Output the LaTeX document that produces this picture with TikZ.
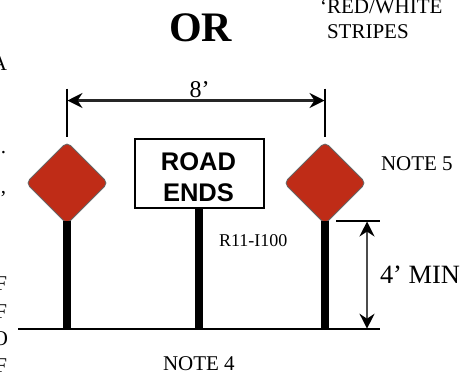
\documentclass[tikz,border=0pt]{standalone}
\usepackage{fontspec}
\setmainfont{Liberation Serif}
\newfontfamily\arialfont{Liberation Sans}
\usetikzlibrary{shapes.geometric,arrows.meta}
\definecolor{signred}{HTML}{BF2C17}
\newcommand{\fs}[1]{\fontsize{#1bp}{#1bp}\selectfont}
\tikzset{
  lbl/.style={inner sep=0pt,outer sep=0pt,anchor=base west,text=black},
  frag/.style={inner sep=0pt,outer sep=0pt,anchor=base east,text=black,font=\fs{21}},
  signword/.style={inner sep=0pt,outer sep=0pt,anchor=base,text=black,font=\arialfont\bfseries\fs{25.5}},
  signdiamond/.style={shape=diamond,aspect=1,draw=black!60,line width=0.8bp,fill=signred,
     rounded corners=5bp,minimum width=82bp,minimum height=82bp,inner sep=0pt,outer sep=0pt},
  signbox/.style={draw=black,line width=2bp,fill=white,minimum width=129bp,minimum height=69bp,
     inner sep=0pt,outer sep=0pt},
  pole/.style={line width=7.5bp,black},
  ground/.style={line width=2bp,black},
  tick/.style={line width=2bp,black},
  headed/.style={{Stealth[length=15bp,width=15bp,inset=5bp,black]}-{Stealth[length=15bp,width=15bp,inset=5bp,black]}},
  dimline/.style={headed,line width=2.2bp,black!85},
  dimlinethin/.style={headed,line width=1.6bp,black!70}
}
\begin{document}
\begin{tikzpicture}[x=1bp,y=-1bp]
\useasboundingbox (0,0) rectangle (471,375);
\clip (0,0) rectangle (471,375);
% ground
\coordinate (gl) at (18,328.7);
\coordinate (gr) at (379.5,328.7);
\coordinate (gp1) at (67,328.7);
\coordinate (gp2) at (199,328.7);
\coordinate (gp3) at (325,328.7);
\coordinate (gh) at (367,328.7);
% signs
\node[signdiamond] (d1) at (67,183) {};
\node[signdiamond] (d2) at (325,183) {};
\node[signbox] (box) at (199,173) {};
\node[signword] (road) at (198.5,170) {ROAD};
\node[signword] (ends) at (198.5,201) {ENDS};
% poles (they start where the rounded tip of the diamond ends)
\draw[pole] ([yshift=3.2bp]d1.south) -- (gp1);
\draw[pole] (box.south) -- (gp2);
\draw[pole] ([yshift=3.2bp]d2.south) -- (gp3);
\draw[ground] (gl) -- (gr);
% 8' dimension
\coordinate (t1a) at (67,88.5);
\coordinate (t1b) at (67,137);
\coordinate (t2a) at (325,88.5);
\coordinate (t2b) at (325,137);
\coordinate (da) at (67.5,100.5);
\coordinate (db) at (324.5,100.5);
\draw[tick] (t1a) -- (t1b);
\draw[tick] (t2a) -- (t2b);
\draw[dimline] (da) -- (db);
% 4' dimension
\coordinate (ta) at (336,221);
\coordinate (tb) at (379.5,221);
\coordinate (ha) at (367,221.5);
\draw[tick] (ta) -- (tb);
\draw[dimlinethin] (ha) -- (gh);
% labels
\node[lbl,font=\bfseries\fs{42}] (or) at (169,41.7) {OR};
\node[lbl,font=\fs{21}] (red) at (327,13) {RED/WHITE};
\node[lbl,font=\fs{21},anchor=base east] (q) at (327,13) {‘};
\node[lbl,font=\fs{21}] (stripes) at (327,38) {STRIPES};
\node[lbl,font=\fs{24}] (eight) at (189.5,97) {8’};
\node[lbl,font=\fs{21}] (n5) at (381,170) {NOTE 5};
\node[lbl,font=\fs{18}] (r11) at (219,246) {R11-I100};
\node[lbl,font=\fs{26.4}] (min) at (380,283) {4’ MIN};
\node[lbl,font=\fs{21}] (n4) at (163,370) {NOTE 4};
% cut-off text at the left edge
\node[frag] (f1) at (7,70) {A};
\node[frag] (f2) at (6,153) {.};
\node[frag] (f3) at (6,193) {,};
\node[frag] (f4) at (7,290) {F};
\node[frag] (f5) at (7,318) {F};
\node[frag] (f6) at (8,345) {O};
\node[frag] (f7) at (7,372) {F};
\end{tikzpicture}
\end{document}
